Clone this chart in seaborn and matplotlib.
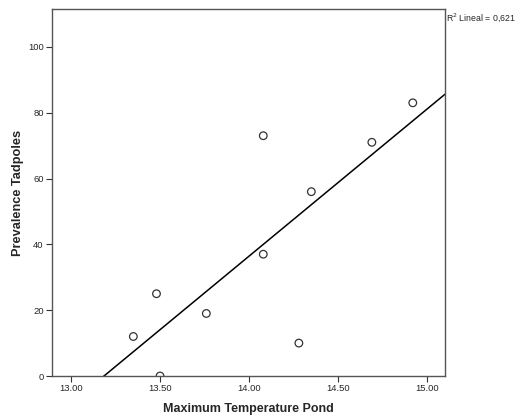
import matplotlib
matplotlib.use("Agg")
import matplotlib.pyplot as plt
import seaborn as sns
import pandas as pd

# Values
max_temp = [13.35, 13.48, 13.50, 13.76, 14.08, 14.08, 14.28, 14.35, 14.69, 14.92]
prevalence = [12, 25, 0, 19, 37, 73, 10, 56, 71, 83]
x_ticks = [13.0, 13.5, 14.0, 14.5, 15.0]
y_ticks = [0, 20, 40, 60, 80, 100]

df = pd.DataFrame({"Maximum Temperature Pond": max_temp,
                   "Prevalence Tadpoles": prevalence})

sns.set_style("white")
plt.rcParams["font.family"] = ["Liberation Sans", "DejaVu Sans"]

fig = plt.figure(figsize=(5.31, 4.16), dpi=100)
ax = fig.add_axes([52 / 531, 1 - 376 / 416, 393 / 531, 367 / 416])
ax.set_xlim(12.893, 15.101)
ax.set_ylim(0, 111.5)

sns.regplot(data=df, x="Maximum Temperature Pond", y="Prevalence Tadpoles",
            ax=ax, ci=None, truncate=False,
            scatter_kws={"facecolors": "none", "edgecolors": "black",
                         "s": 30, "linewidths": 0.9},
            line_kws={"color": "black", "linewidth": 1.1})

ax.set_xlim(12.893, 15.101)
ax.set_ylim(0, 111.5)
ax.set_xticks(x_ticks)
ax.set_xticklabels([f"{t:.2f}" for t in x_ticks], fontsize=6.8)
ax.set_yticks(y_ticks)
ax.set_yticklabels([str(t) for t in y_ticks], fontsize=6.8)
ax.tick_params(axis="both", direction="out", length=4, width=0.8,
               color="#333333", pad=2, left=True, bottom=True)

for s in ax.spines.values():
    s.set_color("#555555")
    s.set_linewidth(1.0)

ax.set_xlabel("Maximum Temperature Pond", fontsize=9, fontweight="bold", labelpad=7)
ax.set_ylabel("Prevalence Tadpoles", fontsize=9.2, fontweight="bold", labelpad=3)

ax.text(1.002, 0.995, "R$^2$ Lineal = 0,621", transform=ax.transAxes,
        fontsize=6.3, ha="left", va="top")

fig.savefig("out.png", dpi=100)
